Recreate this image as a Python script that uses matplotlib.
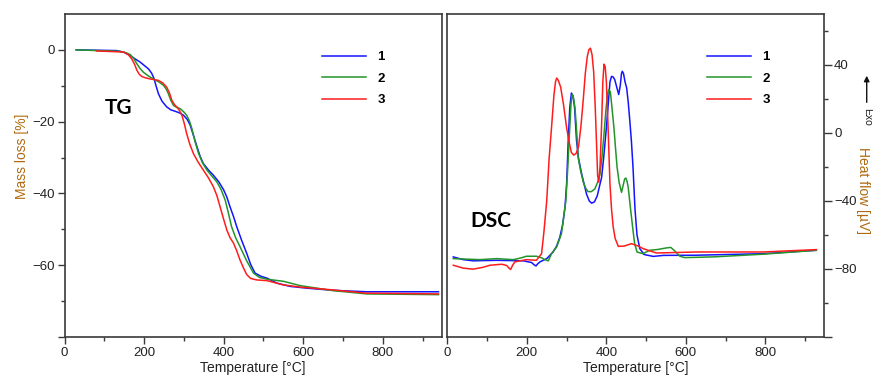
import numpy as np
import matplotlib
matplotlib.use("Agg")
import matplotlib.pyplot as plt
from matplotlib.ticker import MultipleLocator, FixedLocator, FuncFormatter

plt.rcParams['font.family'] = ['Liberation Sans', 'DejaVu Sans']

# ---- TG data (temperature in degC, mass loss in %) ----
tg1_t = [29, 131, 150, 165, 180, 190, 200, 211, 219, 225, 230, 236, 245, 257, 267, 278, 290,
         299, 308, 316, 324, 333, 341, 349, 362, 374, 388, 400, 408, 416, 425, 433, 445, 458,
         468, 479, 494, 509, 534, 567, 609, 676, 760, 940]
tg1_m = [0, -0.2, -0.7, -1.6, -2.7, -3.4, -4.3, -5.3, -6.5, -8, -10, -12.2, -14.3, -15.9,
         -16.7, -17.1, -17.6, -18.2, -19.3, -21, -23.8, -27, -29.7, -31.7, -33.5, -34.9, -36.8,
         -39, -41, -43.7, -46.5, -49.3, -53, -56.7, -59.8, -62.2, -63.1, -63.6, -65, -65.9,
         -66.4, -67, -67.4, -67.4]

tg2_t = [30, 140, 155, 165, 174, 182, 190, 198, 210, 223, 237, 249, 256, 261, 267, 274, 282,
         291, 300, 307, 314, 320, 328, 337, 347, 358, 370, 383, 394, 404, 412, 420, 430, 441,
         458, 475, 490, 509, 551, 593, 676, 760, 940]
tg2_m = [0, -0.4, -0.8, -1.3, -2.4, -3.9, -5.2, -6.2, -7.2, -8.1, -8.9, -9.9, -11, -12.2,
         -14, -15.5, -16, -16.4, -17.3, -18.2, -19.8, -21.9, -25.5, -28.9, -31.5, -33.5, -35.1,
         -36.8, -39, -41.9, -45.5, -49.3, -52.3, -54.8, -58.8, -62.2, -63.4, -63.9, -64.5,
         -65.7, -67.1, -68, -68.2]

tg3_t = [80, 148, 160, 169, 176, 182, 188, 194, 204, 215, 226, 236, 247, 257, 264, 270, 276,
         282, 289, 295, 301, 307, 315, 324, 336, 349, 362, 374, 383, 391, 400, 408, 416, 425,
         433, 441, 450, 458, 468, 483, 509, 551, 593, 676, 760, 940]
tg3_m = [-0.3, -0.6, -1.3, -2.5, -4, -5.7, -6.8, -7.4, -7.8, -8.1, -8.3, -8.5, -9.2, -10.4,
         -12.1, -14.1, -15.2, -15.9, -16.9, -18.2, -20.5, -23.3, -26.3, -28.9, -31.3, -33.5,
         -35.7, -38.1, -40.6, -43.7, -47.2, -50.2, -52.3, -53.9, -56, -58.5, -60.8, -62.6,
         -63.7, -64.1, -64.3, -65.5, -66.1, -66.9, -67.8, -68]

# ---- DSC data (temperature in degC, heat flow in uV) ----
dsc1_t = [15, 40, 65, 124, 191, 212, 218, 223, 228, 233, 250, 266, 275, 283, 290, 296, 300,
          304, 308, 312, 316, 320, 325, 330, 338, 350, 357, 363, 370, 377, 383, 388, 393, 400,
          405, 409, 413, 417, 421, 426, 431, 435, 438, 440, 443, 447, 451, 455, 459, 463, 467,
          472, 477, 484, 495, 518, 543, 626, 794, 928]
dsc1_q = [-72.9, -74.5, -75.2, -74.9, -75.2, -76.2, -77.5, -78.2, -76.8, -75.8, -73.9, -70,
          -66.5, -61.2, -54, -43.7, -30, -4.7, 15, 23.5, 22, 15, -4.7, -15, -24.2, -35.9, -40,
          -41.3, -40.5, -37, -31, -26.1, -15, 3.1, 18, 30, 33.3, 33, 31.4, 27, 22.6, 28, 35,
          36.3, 35, 30, 26.5, 18, 7, -5, -20.3, -45, -60, -68, -71.5, -72.6, -72, -71.9, -71,
          -69]

dsc2_t = [15, 82, 124, 166, 185, 199, 224, 238, 245, 254, 262, 275, 287, 298, 303, 307, 311,
          314, 317, 321, 325, 329, 335, 342, 348, 354, 362, 371, 378, 384, 389, 394, 399, 403,
          406, 410, 414, 419, 423, 427, 432, 438, 442, 446, 449, 452, 455, 460, 466, 471, 477,
          492, 509, 530, 551, 562, 572, 585, 597, 668, 794, 928]
dsc2_q = [-73.9, -74.5, -73.9, -74.5, -73.5, -72.5, -72.5, -73.5, -74.5, -75.2, -71, -67,
          -59.3, -39.8, -20, -0.8, 17, 22.6, 21, 14.8, 2, -14.4, -22, -29, -32.5, -34.5, -34.5,
          -32.9, -29, -24.2, -14, -0.8, 14, 23, 25.5, 24.2, 15, 3.1, -9, -20.3, -29, -34.9,
          -31, -27, -26.5, -28.5, -32.2, -43, -55.4, -65, -70, -71, -69, -68.5, -67.6, -67.3,
          -69.4, -72.5, -73.3, -72.9, -71.3, -69]

dsc3_t = [15, 40, 65, 90, 107, 137, 150, 155, 159, 165, 170, 199, 224, 237, 243, 250, 256,
          262, 268, 272, 275, 279, 285, 292, 300, 306, 312, 318, 324, 330, 336, 342, 347, 352,
          356, 360, 364, 368, 372, 375, 378, 381, 384, 388, 391, 394, 397, 400, 404, 409, 413,
          417, 422, 430, 445, 463, 480, 492, 526, 626, 794, 928]
dsc3_q = [-77.8, -79.5, -80.1, -79, -77.8, -77.2, -78, -79.5, -80.3, -77.5, -75.8, -74.5,
          -74.9, -71, -58, -39.8, -15, 3.1, 22, 30, 32.3, 31, 27, 17, 3.1, -5, -11.5, -13, -12,
          -8, 4, 20, 35, 45, 49, 49.9, 46, 36, 15, -4.7, -25, -29, -20, 5, 30, 40.5, 39, 30, 5,
          -30, -45, -55, -62, -66.7, -66.5, -65.1, -66.5, -68, -70.6, -70, -70, -68.6]

labels = ['1', '2', '3']
colors = ['#1414ff', '#23952a', '#ff1c1c']

frame = '#3a3a3a'
label_col = '#b06a10'

fig = plt.figure(figsize=(8.73, 3.78), dpi=100)
ax1 = fig.add_axes([0.0739, 0.1085, 0.432, 0.8545])
ax2 = fig.add_axes([0.5124, 0.1085, 0.4318, 0.8545])

# ---- TG panel ----
for t, m, c, lab in zip([tg1_t, tg2_t, tg3_t], [tg1_m, tg2_m, tg3_m], colors, labels):
    ax1.plot(t, m, color=c, lw=1.1, label=lab)
ax1.set_xlim(0, 948)
ax1.set_ylim(-80, 10)
ax1.yaxis.set_major_locator(FixedLocator([-80, -60, -40, -20, 0]))
ax1.yaxis.set_minor_locator(FixedLocator([-70, -50, -30, -10]))
ax1.yaxis.set_major_formatter(FuncFormatter(lambda v, p: '' if v < -70 else f'{v:.0f}'.replace('-', '\u2212')))
ax1.text(0.107, 0.709, 'TG', transform=ax1.transAxes, fontsize=15, fontweight='bold',
         family=['Lato', 'DejaVu Sans'], va='center', ha='left')
ax1.legend(loc='upper left', bbox_to_anchor=(0.683, 0.885), frameon=False, borderpad=0,
           borderaxespad=0, handlelength=3.3, handletextpad=0.9, labelspacing=0.7,
           prop={'weight': 'bold', 'size': 9.5})

# ---- DSC panel ----
for t, q, c, lab in zip([dsc1_t, dsc2_t, dsc3_t], [dsc1_q, dsc2_q, dsc3_q], colors, labels):
    ax2.plot(t, q, color=c, lw=1.1, label=lab)
ax2.set_xlim(0, 948)
ax2.set_ylim(-120, 70)
ax2.yaxis.tick_right()
ax2.yaxis.set_major_locator(MultipleLocator(40))
ax2.yaxis.set_minor_locator(MultipleLocator(20))
ax2.yaxis.set_major_formatter(FuncFormatter(lambda v, p: '' if v < -100 else f'{v:.0f}'.replace('-', '\u2212')))
ax2.text(0.060, 0.359, 'DSC', transform=ax2.transAxes, fontsize=15, fontweight='bold',
         family=['Lato', 'DejaVu Sans'], va='center', ha='left')
ax2.legend(loc='upper left', bbox_to_anchor=(0.689, 0.885), frameon=False, borderpad=0,
           borderaxespad=0, handlelength=3.3, handletextpad=0.9, labelspacing=0.7,
           prop={'weight': 'bold', 'size': 9.5})

for ax in (ax1, ax2):
    ax.xaxis.set_major_locator(MultipleLocator(200))
    ax.xaxis.set_minor_locator(MultipleLocator(100))
    ax.tick_params(which='both', direction='out', colors=frame, labelcolor='#222222',
                   labelsize=9.5, width=1.0)
    ax.tick_params(which='major', length=5, pad=2)
    ax.tick_params(which='minor', length=3)
    for s in ax.spines.values():
        s.set_color(frame)
        s.set_linewidth(1.2)
    ax.set_xlabel('Temperature [\u00b0C]', fontsize=10, color='#222222', labelpad=2)

ax1.tick_params(axis='y', which='both', right=False)
ax2.tick_params(axis='y', which='both', left=False, labelleft=False, right=True, labelright=True, pad=1)
ax2.tick_params(axis='y', which='major', length=6)

fig.text(0.025, 0.587, 'Mass loss [%]', rotation=90, ha='center', va='center',
         fontsize=10, color=label_col)
fig.text(0.9885, 0.495, 'Heat flow [\u00b5V]', rotation=270, ha='center', va='center',
         fontsize=10, color=label_col)
fig.text(0.9928, 0.69, 'Exo', rotation=270, ha='center', va='center', fontsize=7.5,
         color='#222222')
fig.add_artist(matplotlib.patches.FancyArrowPatch((0.9928, 0.722), (0.9928, 0.807),
               transform=fig.transFigure, arrowstyle='-|>', mutation_scale=8,
               color='#111111', lw=1.0))

fig.savefig('out.png', dpi=100)
